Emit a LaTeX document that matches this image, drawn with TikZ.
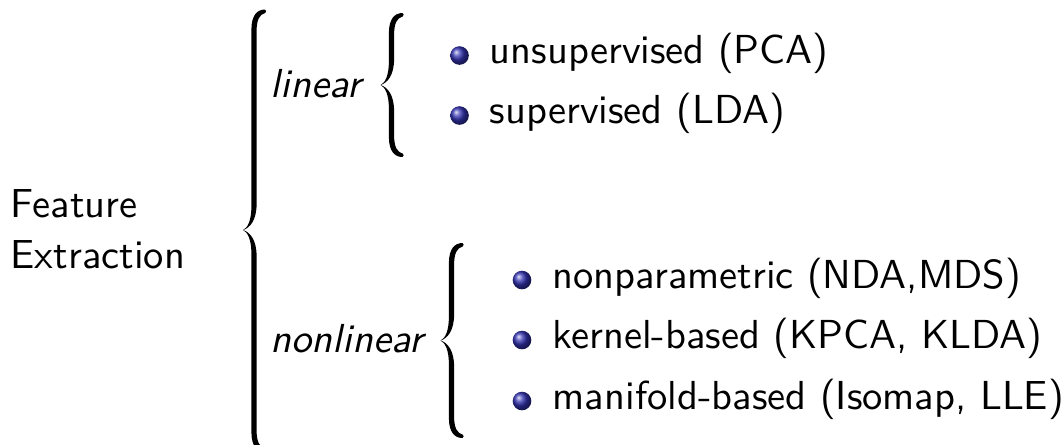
\documentclass[tikz,border=0pt]{standalone}
\usetikzlibrary{positioning}
\definecolor{cball}{rgb}{0.2,0.2,0.7}

% curly brace: #1 bar x, #2 top y, #3 tip y, #4 bottom y (picture pixels)
\newcommand{\curlybrace}[4]{%
  \fill
    (#1+11, #2)
      .. controls (#1+12.5, #2+0.6) and (#1+12.5, #2+2.8) .. (#1+11.2, #2+3.4)
      .. controls (#1+5.5, #2+5) and (#1+2.6, #2+10) .. (#1+2.6, #2+22)
      -- (#1+2.6, #3-26)
      .. controls (#1+2.6, #3-10) and (#1-4, #3-2) .. (#1-11, #3)
      .. controls (#1-4, #3+2) and (#1+2.6, #3+10) .. (#1+2.6, #3+26)
      -- (#1+2.6, #4-22)
      .. controls (#1+2.6, #4-10) and (#1+5.5, #4-5) .. (#1+11.2, #4-3.4)
      .. controls (#1+12.5, #4-2.8) and (#1+12.5, #4-0.6) .. (#1+11, #4)
      .. controls (#1+3, #4) and (#1-2.6, #4-6) .. (#1-2.6, #4-20)
      -- (#1-2.6, #3+24)
      .. controls (#1-2.6, #3+9) and (#1-6.5, #3+2) .. (#1-11, #3)
      .. controls (#1-6.5, #3-2) and (#1-2.6, #3-9) .. (#1-2.6, #3-24)
      -- (#1-2.6, #2+20)
      .. controls (#1-2.6, #2+6) and (#1+3, #2) .. (#1+11, #2)
      -- cycle;}

\begin{document}
\begin{tikzpicture}[
  x=0.247pt, y=-0.247pt,
  font=\sffamily,
  lbl/.style={anchor=base west, inner sep=0pt},
  branch/.style={lbl, font=\sffamily\itshape},
  ball/.style={circle, inner sep=0pt, minimum size=4.6pt,
    shade, ball color=cball}
]
\useasboundingbox (0,0) rectangle (1064,444);

% ============================================================
% root and outer brace
% ============================================================
\node[lbl] (feat) at (10, 217) {Feature};
\node[lbl] (extr) at (10, 268) {Extraction};
\curlybrace{254}{9.5}{230}{452}

% ============================================================
% linear branch
% ============================================================
\node[branch] (lin) at (270, 97) {linear};
\curlybrace{391.5}{13}{85}{157}

\node[ball] (b1) at (459.5, 55.5) {};
\node[lbl] (pca) at (489, 63.5) {unsupervised (PCA)};
\node[ball] (b2) at (459.5, 115.5) {};
\node[lbl] (lda) at (489, 123.5) {supervised (LDA)};

% ============================================================
% nonlinear branch
% ============================================================
\node[branch] (nonlin) at (270, 352) {nonlinear};
\curlybrace{451.5}{243}{340.5}{438}

\foreach \y/\nm/\txt in {280/nda/{nonparametric (NDA,MDS)},
    340/kpca/{kernel-based (KPCA, KLDA)},
    401/iso/{manifold-based (Isomap, LLE)}} {
  \node[ball] (b-\nm) at (522, \y) {};
  \node[lbl] (\nm) at (552, \y+8) {\txt};
}

\end{tikzpicture}
\end{document}
